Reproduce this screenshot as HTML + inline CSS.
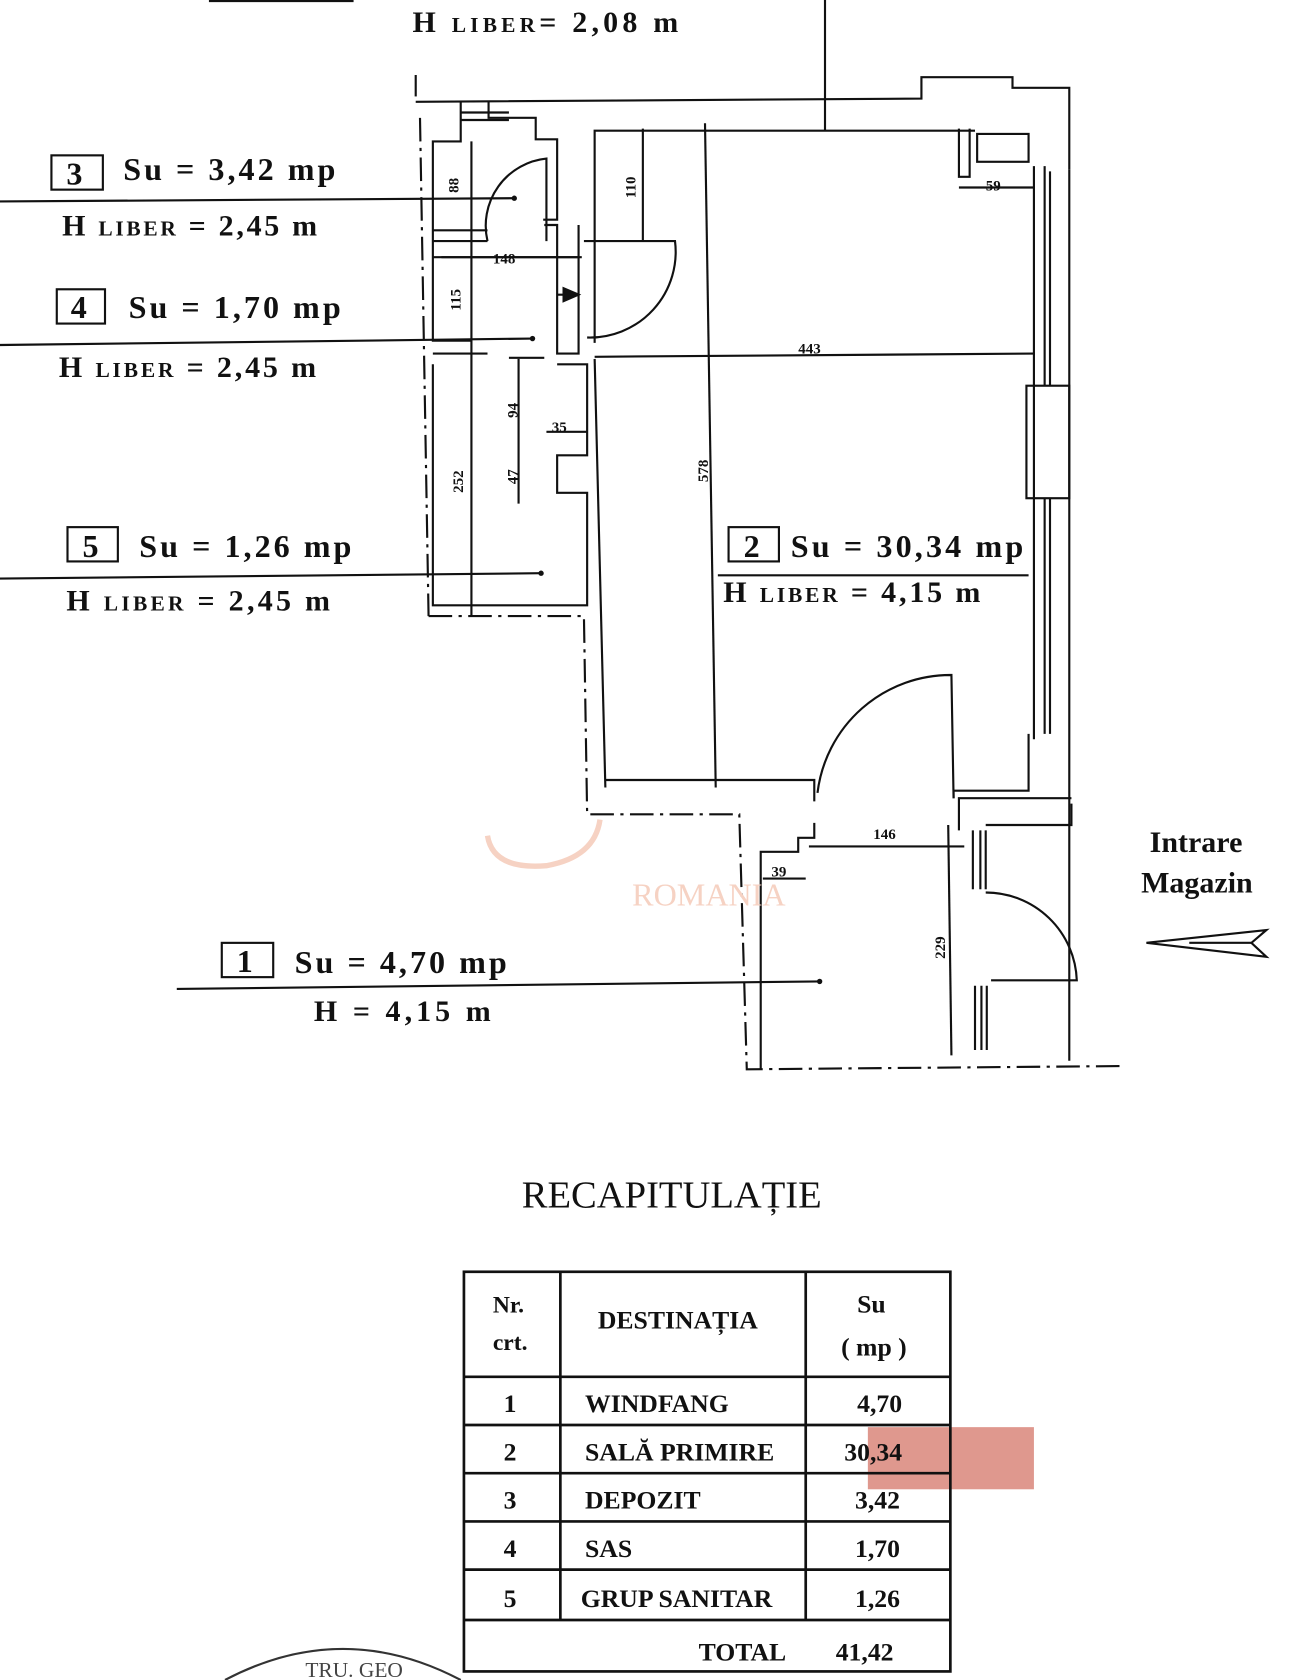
<!DOCTYPE html>
<html><head><meta charset="utf-8"><style>
html,body{margin:0;padding:0;background:#fff;}
svg{display:block;}
text{font-family:"Liberation Serif",serif;fill:#111;}
.b{font-weight:bold;}
</style></head><body>
<svg width="1290" height="1680" viewBox="0 0 1204 1568" xmlns="http://www.w3.org/2000/svg">
<g stroke="#111" stroke-width="2" fill="none">
<line x1="195" y1="1" x2="330" y2="1"/>
<line x1="770" y1="0" x2="770" y2="122"/>
<polyline points="388,95 860,92 860,72 945,72 945,82 998,82 998,158"/>
<line x1="998" y1="158" x2="998" y2="990"/>
<g stroke-dasharray="22,6,3,6">
<line x1="388" y1="70" x2="388" y2="90"/>
<line x1="392" y1="110" x2="400" y2="575"/>
<polyline points="400,575 545,575 548,760 690,760 697,998 1045,995"/>
</g>
<polyline points="430,95 430,132 404,132 404,318 440,318"/>
<polyline points="456,95 456,110 500,110 500,130 520,130 520,205 507,205"/>
<line x1="430" y1="105" x2="475" y2="105"/><line x1="430" y1="112" x2="475" y2="112"/>
<line x1="440" y1="132" x2="440" y2="575"/>
<polyline points="404,240 543,240"/>
<polyline points="404,340 404,565 548,565 548,460 520,460 520,425 548,425 548,340 520,340"/>
<polyline points="508,210 520,210 520,330 540,330 540,210"/>
<line x1="404" y1="330" x2="455" y2="330"/><line x1="475" y1="334" x2="508" y2="334"/>
<path d="M455,225 A63,63 0 0 1 510,148 L510,225"/>
<line x1="404" y1="215" x2="455" y2="215"/><line x1="404" y1="225" x2="455" y2="225"/>
<path d="M545,225 L630,225 A80,80 0 0 1 548,315"/>
<line x1="520" y1="275" x2="540" y2="275"/>
<polygon points="540,275 526,269 526,281" fill="#111"/>
<polyline points="555,320 555,122 910,122"/>
<line x1="658" y1="115" x2="668" y2="735"/>
<line x1="600" y1="120" x2="600" y2="225"/>
<line x1="555" y1="333" x2="965" y2="330"/>
<line x1="555" y1="335" x2="565" y2="735"/>
<polyline points="565,728 760,728 760,748"/>
<path d="M763,740 A125,125 0 0 1 888,630 L890,745"/>
<polyline points="890,745 890,738 960,738 960,685"/>
<line x1="965" y1="155" x2="965" y2="690"/>
<line x1="975" y1="155" x2="975" y2="360"/>
<line x1="980" y1="160" x2="980" y2="360"/>
<line x1="975" y1="465" x2="975" y2="685"/>
<line x1="980" y1="465" x2="980" y2="685"/>
<rect x="958" y="360" width="40" height="105"/>
<polyline points="895,120 895,165 905,165 905,120"/>
<rect x="912" y="125" width="48" height="26"/>
<line x1="895" y1="175" x2="965" y2="175"/>
<polyline points="710,998 710,795 745,795 745,782 760,782 760,768"/>
<polyline points="895,775 895,745 1000,745"/>
<line x1="755" y1="790" x2="900" y2="790"/>
<line x1="885" y1="770" x2="888" y2="985"/>
<line x1="908" y1="775" x2="908" y2="830"/><line x1="915" y1="775" x2="915" y2="830"/><line x1="920" y1="775" x2="920" y2="830"/>
<line x1="910" y1="920" x2="910" y2="980"/><line x1="916" y1="920" x2="916" y2="980"/><line x1="921" y1="920" x2="921" y2="980"/>
<path d="M920,833 A85,85 0 0 1 1005,915 L925,915"/>
<polyline points="920,770 1000,770 1000,750"/>
<line x1="712" y1="820" x2="752" y2="820"/>
<line x1="0" y1="188" x2="480" y2="185"/>
<line x1="0" y1="322" x2="497" y2="316"/>
<line x1="0" y1="540" x2="505" y2="535"/>
<line x1="670" y1="537" x2="960" y2="537"/>
<line x1="165" y1="923" x2="765" y2="916"/>
<line x1="412" y1="240" x2="540" y2="240"/>
<line x1="484" y1="335" x2="484" y2="470"/>
<line x1="510" y1="403" x2="548" y2="403"/>
<polygon points="1070,880 1182,868 1168,880 1182,893"/>
<line x1="1110" y1="880" x2="1168" y2="880"/>
</g>
<g fill="#111">
<circle cx="480" cy="185" r="2.5"/><circle cx="497" cy="316" r="2.5"/><circle cx="505" cy="535" r="2.5"/><circle cx="765" cy="916" r="2.5"/>
</g>
<g class="b" font-size="14">
<text x="460" y="246">148</text>
<text x="745" y="330">443</text>
<text x="515" y="403">35</text>
<text x="815" y="783">146</text>
<text x="720" y="818">39</text>
<text x="920" y="178">59</text>
<text transform="translate(593,185) rotate(-90)">110</text>
<text transform="translate(430,290) rotate(-90)">115</text>
<text transform="translate(432,460) rotate(-90)">252</text>
<text transform="translate(483,390) rotate(-90)">94</text>
<text transform="translate(483,452) rotate(-90)">47</text>
<text transform="translate(661,450) rotate(-90)">578</text>
<text transform="translate(882,895) rotate(-90)">229</text>
<text transform="translate(428,180) rotate(-90)">88</text>
</g>
<g class="b" font-size="30">
<text x="385" y="30" font-size="28" textLength="248" lengthAdjust="spacing">H <tspan font-size="20">LIBER</tspan>= 2,08 m</text>
<text x="115" y="168" textLength="198" lengthAdjust="spacing">Su  =  3,42 mp</text>
<text x="58" y="220" font-size="28" textLength="238" lengthAdjust="spacing">H <tspan font-size="20">LIBER</tspan> = 2,45 m</text>
<text x="120" y="297" textLength="198" lengthAdjust="spacing">Su  =  1,70 mp</text>
<text x="55" y="352" font-size="28" textLength="240" lengthAdjust="spacing">H <tspan font-size="20">LIBER</tspan> = 2,45 m</text>
<text x="130" y="520" textLength="198" lengthAdjust="spacing">Su  =  1,26 mp</text>
<text x="62" y="570" font-size="28" textLength="246" lengthAdjust="spacing">H <tspan font-size="20">LIBER</tspan>  = 2,45 m</text>
<text x="738" y="520" textLength="217" lengthAdjust="spacing">Su  =  30,34 mp</text>
<text x="675" y="562" font-size="28" textLength="240" lengthAdjust="spacing">H <tspan font-size="20">LIBER</tspan> = 4,15 m</text>
<text x="275" y="908" textLength="198" lengthAdjust="spacing">Su  =  4,70 mp</text>
<text x="293" y="953" font-size="28" textLength="165" lengthAdjust="spacing">H  = 4,15 m</text>
<text x="1073" y="795" font-size="28">Intrare</text>
<text x="1065" y="833" font-size="28">Magazin</text>
</g>
<g stroke="#111" stroke-width="2" fill="none">
<rect x="48" y="145" width="48" height="32"/>
<rect x="53" y="270" width="45" height="32"/>
<rect x="63" y="492" width="47" height="32"/>
<rect x="680" y="492" width="47" height="32"/>
<rect x="207" y="880" width="48" height="32"/>
</g>
<g font-size="30" class="b">
<text x="62" y="172">3</text><text x="66" y="297">4</text><text x="77" y="520">5</text><text x="694" y="520">2</text><text x="221" y="907">1</text>
</g>
<text x="590" y="845" font-family="Liberation Sans,sans-serif" font-size="30" style="fill:#f6d2c3">ROMANIA</text>
<path d="M455,780 Q460,812 510,808 Q555,800 560,765" stroke="#f6d2c3" stroke-width="5" fill="none"/>
<text x="487" y="1127" font-size="36">RECAPITULAȚIE</text>
<rect x="810" y="1332" width="155" height="58" fill="#d9867a" opacity="0.85"/>
<g stroke="#111" stroke-width="2.5" fill="none">
<rect x="433" y="1187" width="454" height="373"/>
<line x1="523" y1="1187" x2="523" y2="1512"/>
<line x1="752" y1="1187" x2="752" y2="1512"/>
<line x1="433" y1="1285" x2="887" y2="1285"/>
<line x1="433" y1="1330" x2="887" y2="1330"/>
<line x1="433" y1="1375" x2="887" y2="1375"/>
<line x1="433" y1="1420" x2="887" y2="1420"/>
<line x1="433" y1="1465" x2="887" y2="1465"/>
<line x1="433" y1="1512" x2="887" y2="1512"/>
</g>
<g class="b" font-size="24">
<text x="460" y="1225" font-size="22">Nr.</text><text x="460" y="1260" font-size="22">crt.</text>
<text x="558" y="1240">DESTINAȚIA</text>
<text x="800" y="1225">Su</text><text x="785" y="1265">( mp )</text>
<text x="470" y="1318">1</text><text x="546" y="1318">WINDFANG</text><text x="800" y="1318">4,70</text>
<text x="470" y="1363">2</text><text x="546" y="1363">SALĂ PRIMIRE</text><text x="788" y="1363">30,34</text>
<text x="470" y="1408">3</text><text x="546" y="1408">DEPOZIT</text><text x="798" y="1408">3,42</text>
<text x="470" y="1453">4</text><text x="546" y="1453">SAS</text><text x="798" y="1453">1,70</text>
<text x="470" y="1500">5</text><text x="542" y="1500">GRUP SANITAR</text><text x="798" y="1500">1,26</text>
<text x="652" y="1550">TOTAL</text><text x="780" y="1550">41,42</text>
</g>
<path d="M210,1568 Q320,1510 430,1568" stroke="#333" stroke-width="2" fill="none"/>
<text x="285" y="1565" font-family="Liberation Sans,sans-serif" font-size="20" style="fill:#444">TRU. GEO</text>
</svg>
</body></html>
